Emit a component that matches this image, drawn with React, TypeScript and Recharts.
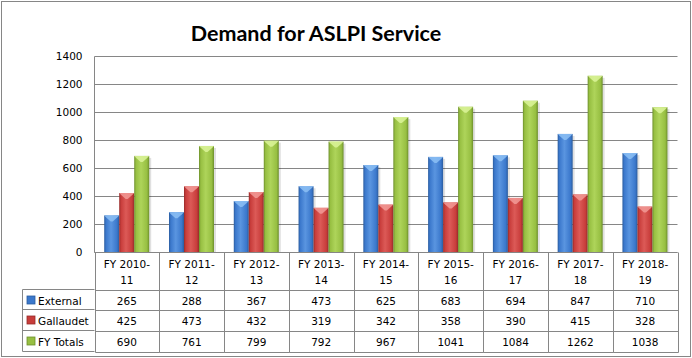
import { BarChart, Bar, XAxis, YAxis, CartesianGrid } from "recharts";

const years = [
  "FY 2010-11",
  "FY 2011-12",
  "FY 2012-13",
  "FY 2013-14",
  "FY 2014-15",
  "FY 2015-16",
  "FY 2016-17",
  "FY 2017-18",
  "FY 2018-19",
];
const external = [265, 288, 367, 473, 625, 683, 694, 847, 710];
const gallaudet = [425, 473, 432, 319, 342, 358, 390, 415, 328];
const totals = [690, 761, 799, 792, 967, 1041, 1084, 1262, 1038];
const yTicks = [0, 200, 400, 600, 800, 1000, 1200, 1400];

const seriesNames = ["External", "Gallaudet", "FY Totals"];
const seriesKeys = ["external", "gallaudet", "totals"];
const seriesValues = [external, gallaudet, totals];

const palette = [
  { id: "blue", dark: "#2b5c9e", base: "#3b78cc", light: "#5a95e0", top: "#8cc0f5" },
  { id: "red", dark: "#962b2a", base: "#c83d3b", light: "#dc5a57", top: "#f29a96" },
  { id: "green", dark: "#6d8f2c", base: "#97bf42", light: "#aed45a", top: "#dcf59a" },
];

const data = years.map((year, i) => ({
  year,
  external: external[i],
  gallaudet: gallaudet[i],
  totals: totals[i],
}));

const GRID = "#868686";
const FONT = "'DejaVu Sans', Verdana, sans-serif";
const FS = 10.5;

function bevelShape(c: (typeof palette)[number]) {
  return (props: any) => {
    const { x, y, width, height } = props;
    if (!height || height <= 0) return <g />;
    const w = width;
    return (
      <g>
        <rect x={x + 2} y={y + 2} width={w} height={height - 2} fill="#000" opacity={0.12} />
        <rect x={x} y={y} width={w} height={height} fill={`url(#body-${c.id})`} />
        <polygon
          points={`${x},${y} ${x + w},${y} ${x + w - 2},${y + 2} ${x + w / 2 + 1},${y + 6} ${x + w / 2 - 1},${y + 6} ${x + 2},${y + 2}`}
          fill={c.top}
          opacity={0.85}
        />
      </g>
    );
  };
}

function TableTick(props: any) {
  const { x, y, payload } = props;
  const half = payload && payload.offset ? payload.offset : 32.4;
  const i = payload.index ?? years.indexOf(payload.value);
  const label: string = String(payload.value);
  const cut = label.lastIndexOf("-") + 1;
  const l = Math.round(x - half) + 0.5;
  const r = Math.round(x + half) + 0.5;
  const rows = [y + 37, y + 57, y + 78, y + 99].map((v) => Math.round(v) + 0.5);
  const base = [y + 52, y + 72, y + 93];
  return (
    <g fontFamily={FONT} fontSize={FS} fill="#000">
      <line x1={l} x2={l} y1={y} y2={rows[3]} stroke={GRID} />
      <line x1={r} x2={r} y1={y} y2={rows[3]} stroke={GRID} />
      {rows.map((ry, k) => (
        <line key={k} x1={l} x2={r} y1={ry} y2={ry} stroke={GRID} />
      ))}
      <text x={x} y={y + 15} textAnchor="middle">
        {label.slice(0, cut)}
      </text>
      <text x={x} y={y + 31} textAnchor="middle">
        {label.slice(cut)}
      </text>
      {seriesValues.map((vals, k) => (
        <text key={k} x={x} y={base[k]} textAnchor="middle">
          {vals[i]}
        </text>
      ))}
    </g>
  );
}

export default function App() {
  const rowLines = [289.5, 309.5, 330.5, 351.5];
  const rowBase = [305, 325, 346];
  return (
    <div
      style={{
        position: "absolute",
        left: 0,
        top: 0,
        width: 692,
        height: 358,
        background: "#fff",
      }}
    >
      <BarChart
        width={692}
        height={358}
        data={data}
        margin={{ top: 56.5, right: 14.5, left: 0.5, bottom: 0 }}
        barCategoryGap="15%"
        barGap={0}
      >
        <defs>
          {palette.map((c) => (
            <linearGradient key={c.id} id={`body-${c.id}`} x1="0" y1="0" x2="1" y2="0">
              <stop offset="0%" stopColor={c.dark} />
              <stop offset="12%" stopColor={c.base} />
              <stop offset="45%" stopColor={c.light} />
              <stop offset="85%" stopColor={c.base} />
              <stop offset="100%" stopColor={c.dark} />
            </linearGradient>
          ))}
        </defs>
        <CartesianGrid vertical={false} stroke={GRID} strokeDasharray="" />
        <YAxis
          width={94}
          domain={[0, 1400]}
          ticks={yTicks}
          interval={0}
          tickLine={false}
          tickSize={0}
          tickMargin={12}
          axisLine={{ stroke: GRID }}
          tick={{ fontSize: FS, fill: "#000", fontFamily: FONT }}
        />
        <XAxis
          dataKey="year"
          height={105.5}
          interval={0}
          tickLine={false}
          tickSize={0}
          tickMargin={0}
          axisLine={{ stroke: GRID }}
          tick={<TableTick />}
        />
        {seriesKeys.map((k, i) => (
          <Bar
            key={k}
            dataKey={k}
            name={seriesNames[i]}
            fill={palette[i].base}
            shape={bevelShape(palette[i])}
            isAnimationActive={false}
          />
        ))}
      </BarChart>
      <svg
        width={692}
        height={358}
        style={{ position: "absolute", left: 0, top: 0, pointerEvents: "none" }}
      >
        <rect x={1.5} y={1.5} width={689} height={355} fill="none" stroke={GRID} />
        <text
          x={316}
          y={41}
          textAnchor="middle"
          fontFamily="Lato, 'Open Sans', sans-serif"
          fontWeight="bold"
          fontSize={21.5}
          fill="#000"
        >
          Demand for ASLPI Service
        </text>
        <line x1={22.5} x2={22.5} y1={rowLines[0]} y2={rowLines[3]} stroke={GRID} />
        {rowLines.map((ry, k) => (
          <line key={k} x1={22.5} x2={94.5} y1={ry} y2={ry} stroke={GRID} />
        ))}
        {seriesNames.map((name, k) => (
          <g key={name}>
            <rect
              x={27}
              y={rowBase[k] - 9}
              width={8}
              height={8}
              fill={palette[k].base}
              stroke={palette[k].dark}
              strokeWidth={0.8}
            />
            <text x={38} y={rowBase[k]} fontFamily={FONT} fontSize={FS} fill="#000">
              {name}
            </text>
          </g>
        ))}
      </svg>
    </div>
  );
}
